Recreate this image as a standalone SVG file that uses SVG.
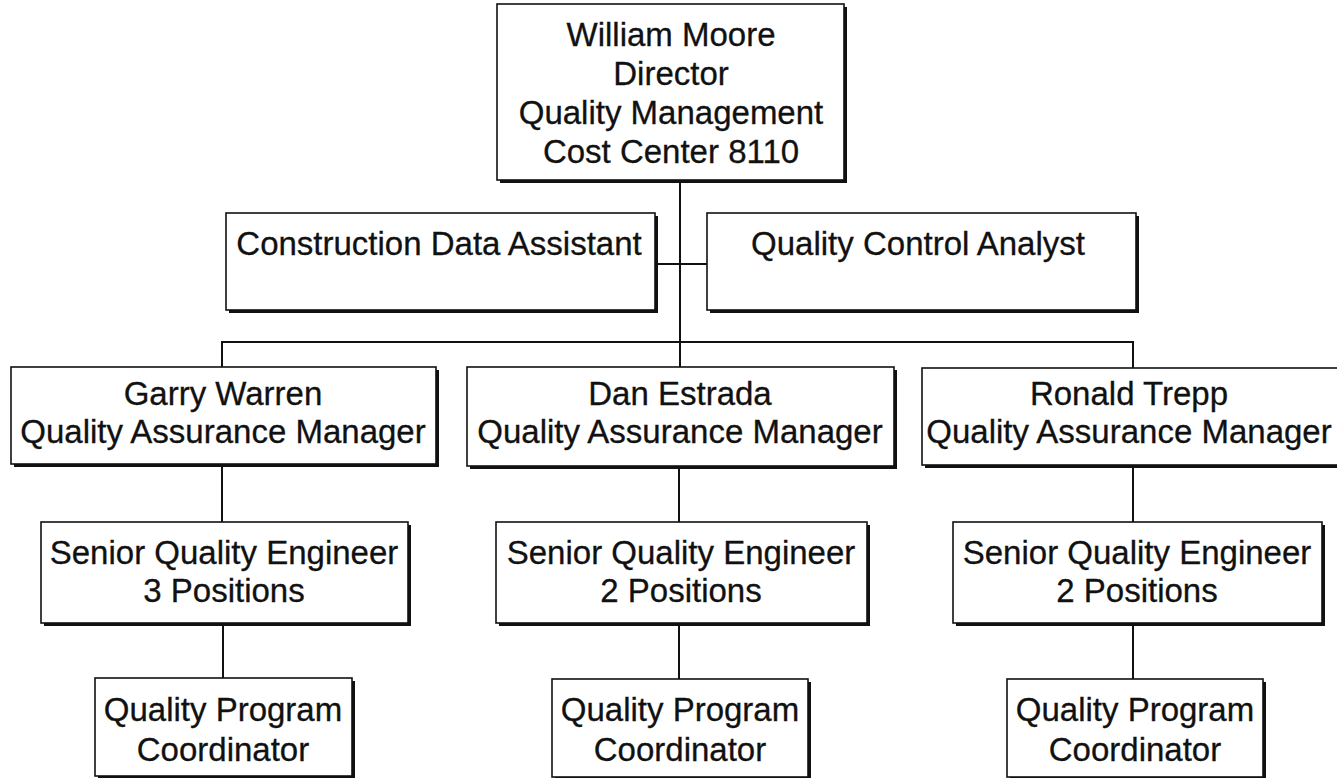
<svg xmlns="http://www.w3.org/2000/svg" width="1337" height="778" viewBox="0 0 1337 778">
<style>
.shadow{fill:#111;}
.box{fill:#fff;stroke:#111;stroke-width:1.6;}
.t{font-family:"Liberation Sans",Arial,sans-serif;font-size:33px;fill:#111;stroke:#111;stroke-width:0.3;text-anchor:middle;}
.c{stroke:#111;stroke-width:2;fill:none;}
</style>
<rect width="1337" height="778" fill="#fff"/>
<g id="connectors">
<line class="c" x1="680" y1="180" x2="680" y2="342"/>
<line class="c" x1="655" y1="264" x2="707" y2="264"/>
<line class="c" x1="222" y1="342" x2="1134" y2="342"/>
<line class="c" x1="222" y1="341" x2="222" y2="367"/>
<line class="c" x1="680" y1="341" x2="680" y2="367"/>
<line class="c" x1="1133" y1="341" x2="1133" y2="368"/>
<line class="c" x1="222" y1="464" x2="222" y2="522"/>
<line class="c" x1="679" y1="466" x2="679" y2="522"/>
<line class="c" x1="1133" y1="465" x2="1133" y2="522"/>
<line class="c" x1="223" y1="623" x2="223" y2="678"/>
<line class="c" x1="679" y1="623" x2="679" y2="679"/>
<line class="c" x1="1133" y1="623" x2="1133" y2="679"/>
</g>
<g id="director">
<rect class="shadow" x="500" y="7" width="347" height="176"/>
<rect class="box" x="497" y="4" width="347" height="176"/>
<text class="t" x="671" y="46">William Moore</text>
<text class="t" x="671" y="85">Director</text>
<text class="t" x="671" y="124">Quality Management</text>
<text class="t" x="671" y="163">Cost Center 8110</text>
</g>
<g id="cda">
<rect class="shadow" x="229" y="216" width="429" height="97"/>
<rect class="box" x="226" y="213" width="429" height="97"/>
<text class="t" x="439" y="255">Construction Data Assistant</text>
</g>
<g id="qca">
<rect class="shadow" x="710" y="216" width="429" height="97"/>
<rect class="box" x="707" y="213" width="429" height="97"/>
<text class="t" x="918" y="255">Quality Control Analyst</text>
</g>
<g id="garry">
<rect class="shadow" x="14" y="370" width="425" height="97"/>
<rect class="box" x="11" y="367" width="425" height="97"/>
<text class="t" x="223" y="405">Garry Warren</text>
<text class="t" x="223" y="443">Quality Assurance Manager</text>
</g>
<g id="dan">
<rect class="shadow" x="470" y="370" width="427" height="99"/>
<rect class="box" x="467" y="367" width="427" height="99"/>
<text class="t" x="680" y="405">Dan Estrada</text>
<text class="t" x="680" y="443">Quality Assurance Manager</text>
</g>
<g id="ronald">
<rect class="shadow" x="925" y="371" width="425" height="97"/>
<rect class="box" x="922" y="368" width="425" height="97"/>
<text class="t" x="1129" y="405">Ronald Trepp</text>
<text class="t" x="1129" y="443">Quality Assurance Manager</text>
</g>
<g id="sqe1">
<rect class="shadow" x="44" y="525" width="367" height="101"/>
<rect class="box" x="41" y="522" width="367" height="101"/>
<text class="t" x="224" y="564">Senior Quality Engineer</text>
<text class="t" x="224" y="602">3 Positions</text>
</g>
<g id="sqe2">
<rect class="shadow" x="499" y="525" width="371" height="101"/>
<rect class="box" x="496" y="522" width="371" height="101"/>
<text class="t" x="681" y="564">Senior Quality Engineer</text>
<text class="t" x="681" y="602">2 Positions</text>
</g>
<g id="sqe3">
<rect class="shadow" x="956" y="525" width="369" height="101"/>
<rect class="box" x="953" y="522" width="369" height="101"/>
<text class="t" x="1137" y="564">Senior Quality Engineer</text>
<text class="t" x="1137" y="602">2 Positions</text>
</g>
<g id="qpc1">
<rect class="shadow" x="98" y="681" width="257" height="98"/>
<rect class="box" x="95" y="678" width="257" height="98"/>
<text class="t" x="223" y="721">Quality Program</text>
<text class="t" x="223" y="761">Coordinator</text>
</g>
<g id="qpc2">
<rect class="shadow" x="555" y="682" width="256" height="98"/>
<rect class="box" x="552" y="679" width="256" height="98"/>
<text class="t" x="680" y="721">Quality Program</text>
<text class="t" x="680" y="761">Coordinator</text>
</g>
<g id="qpc3">
<rect class="shadow" x="1010" y="682" width="256" height="98"/>
<rect class="box" x="1007" y="679" width="256" height="98"/>
<text class="t" x="1135" y="721">Quality Program</text>
<text class="t" x="1135" y="761">Coordinator</text>
</g>
</svg>
